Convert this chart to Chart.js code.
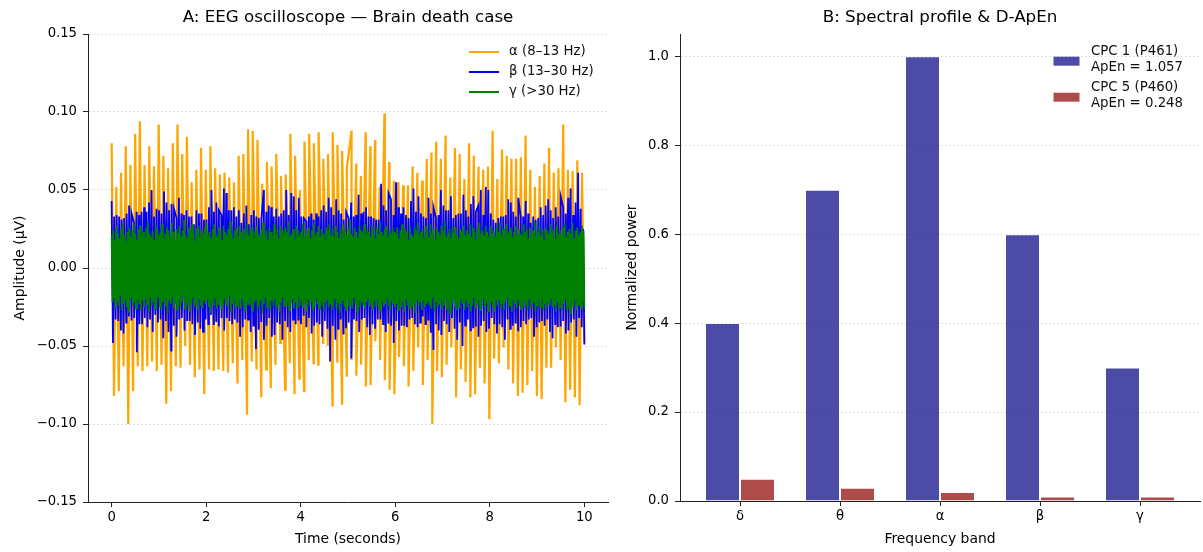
<!DOCTYPE html>
<html>
<head>
<meta charset="utf-8">
<script src="https://cdn.jsdelivr.net/npm/chart.js@4.4.0/dist/chart.umd.min.js"></script>
<style>
  html, body { margin: 0; padding: 0; background: #fff; }
  body { width: 1203px; height: 552px; position: relative; overflow: hidden; }
  #eegWrap { position: absolute; left: 0; top: 0; width: 615px; height: 552px; }
  #bandWrap { position: absolute; left: 600px; top: 0; width: 603px; height: 552px; }
</style>
</head>
<body>
<div id="eegWrap"><canvas id="eeg"></canvas></div>
<div id="bandWrap"><canvas id="bands"></canvas></div>
<script>
// ---- panel A data (amplitudes in units of 0.001) ----
const T_START = 0, T_END = 10;
const AMP_UNIT = 0.001;
const timeTicks = [0, 2, 4, 6, 8, 10];
const ampTicks = [-0.15, -0.1, -0.05, 0, 0.05, 0.1, 0.15];

const alphaPeaks = [80,52,61,78,66,86,94,66,78,65,92,72,64,80,92,73,84,55,63,77,63,78,64,60,61,
  58,55,72,73,89,88,82,54,68,65,73,59,60,86,72,50,81,86,80,87,70,73,87,79,75,64,
  88,67,59,87,78,82,52,99,68,56,55,53,53,65,61,56,70,74,81,70,85,58,77,73,57,
  80,72,65,63,65,88,57,76,72,70,70,71,85,63,52,59,67,77,61,64,92,63,62,69,61];
const alphaTroughs = [-82,-79,-63,-100,-79,-63,-66,-63,-60,-66,-62,-87,-79,-63,-64,-50,-62,-70,-65,-81,
  -65,-66,-65,-66,-67,-61,-74,-59,-94,-60,-65,-83,-65,-77,-62,-48,-78,-61,-81,-71,
  -79,-59,-61,-62,-48,-50,-88,-60,-87,-69,
  -59,-69,-62,-76,-75,-47,-59,-72,-78,-81,-57,-63,-76,-66,-51,-75,-59,-100,-66,-70,
  -62,-51,-83,-65,-73,-83,-81,-64,-74,-97,-58,-61,-51,-65,-74,-82,-80,-75,-66,-82,
  -84,-64,-64,-51,-59,-86,-78,-83,-88,-48];

const betaPeaks = [43,33,34,33,31,32,35,40,35,29,36,34,36,39,36,42,50,33,38,37,35,49,42,37,41,38,32,45,35,34,
  37,33,33,28,37,35,35,31,31,39,50,36,42,37,34,51,48,37,37,39,33,37,29,35,40,28,34,37,33,32,
  31,50,36,40,39,33,38,33,35,37,50,34,48,46,37,45,33,32,30,33,35,31,35,33,37,40,36,45,39,34,
  44,37,35,31,36,32,42,33,34,47,35,36,39,33,33,32,31,31,54,40,37,48,44,34,55,39,35,39,34,32,
  43,51,36,46,35,33,32,45,35,39,32,34,50,40,37,37,46,32,34,35,35,47,37,33,41,46,36,40,50,34,
  52,50,35,31,29,32,33,33,34,44,42,36,33,45,33,33,43,35,29,33,31,32,39,34,40,44,37,32,39,33,
  46,39,35,45,51,34,42,61,38,25];
const betaTroughs = [-48,-33,-34,-40,-42,-35,-31,-33,-32,-54,-36,-36,-32,-38,-33,-41,-30,-35,-33,-45,-34,-41,-53,-37,-44,-33,-32,-40,-34,-34,
  -36,-43,-35,-39,-41,-33,-36,-30,-36,-34,-37,-32,-40,-32,-34,-36,-33,-35,-44,-38,-33,-33,-41,-37,-52,-39,-34,-46,-37,-32,
  -44,-43,-35,-36,-46,-34,-38,-41,-33,-36,-33,-36,-30,-38,-32,-42,-37,-35,-36,-44,-34,-39,-60,-37,-46,-39,-33,-42,-38,-35,
  -58,-33,-34,-41,-33,-32,-38,-43,-36,-39,-33,-33,-36,-41,-35,-37,-48,-34,-40,-37,-37,-38,-33,-32,-36,-38,-35,-31,-36,-33,
  -41,-52,-36,-40,-43,-34,-36,-41,-32,-39,-46,-35,-50,-37,-33,-40,-38,-37,-44,-37,-34,-41,-39,-32,-36,-42,-36,-38,-46,-33,
  -39,-37,-35,-40,-38,-34,-36,-33,-32,-44,-38,-35,-34,-37,-33,-41,-45,-36,-38,-37,-34,-42,-40,-35,-33,-44,-32,-38,-49];

const gammaPeaks = [20,24,18,27,22,19,25,28,21,17,23,26,20,24,29,22,18,25,27,21,
  23,19,26,30,22,20,24,18,27,25,21,23,28,19,22,26,24,20,29,23,
  18,25,22,27,20,24,31,21,19,26,23,28,22,17,25,27,20,24,22,26,
  29,21,23,19,25,28,22,20,26,24,18,27,23,21,25,30,22,19,24,26,
  20,27,23,18,25,22,28,21,24,26,19,23,27,22,20,25,29,21,24,18,
  26,23,20,28,22,25,19,27,24,21,26,23,30,20,22,25,18,27,24,21,
  23,28,20,25,22,26,19,24,29,21,23,27,20,25,22,18,26,24,28,21,
  25,20,27,23,19,26,22,28,24,21,25,31,22,20,26,23,19,27,24,22,
  28,21,25,23,20,27,24,19,26,22,29,23,21,25,27,20,24,22,26,23,
  22,26,19,24,28,21,25,23,18,27,22,20,26,24,29,21,23,25,19,27,
  24,20,28,22,25,18,26,23,21,27,24,30,20,22,25,19,27,23,26,21,
  19,25,23,27,21,24,22,28,20,26,23,18,25,29,22,24,21,27,23,20,
  27,22,24,20,26,23,29,21,25,19,28,22,24,26,20,23,27,21,25,22,
  21,28,23,25,19,26,22,24,30,20,23,27,21,25,18,26,24,22,28,23,
  25,19,27,22,24,21,26,28,20,23,25,22,29,19,24,26,21,23,27,24];
const gammaTroughs = [-22,-19,-26,-21,-24,-18,-27,-23,-20,-25,-28,-21,-19,-24,-22,-26,-20,-23,-27,-21,
  -25,-20,-23,-28,-19,-24,-22,-26,-21,-18,-25,-27,-22,-20,-24,-29,-21,-23,-19,-26,
  -23,-27,-20,-25,-22,-18,-26,-24,-21,-28,-23,-19,-25,-22,-27,-20,-24,-26,-21,-23,
  -20,-25,-29,-22,-24,-19,-26,-23,-21,-27,-24,-20,-22,-25,-18,-28,-23,-21,-26,-24,
  -22,-26,-20,-24,-27,-21,-23,-19,-25,-28,-22,-20,-26,-24,-21,-29,-23,-19,-25,-22,
  -27,-21,-24,-20,-26,-23,-28,-22,-19,-25,-24,-21,-27,-23,-20,-26,-22,-25,-18,-24,
  -21,-26,-23,-28,-20,-24,-22,-27,-25,-19,-23,-26,-21,-24,-28,-22,-20,-25,-23,-27,
  -24,-20,-26,-22,-29,-23,-21,-25,-27,-20,-24,-22,-26,-19,-23,-28,-21,-25,-22,-24,
  -26,-22,-19,-25,-23,-27,-21,-24,-20,-26,-28,-22,-25,-23,-19,-24,-27,-21,-23,-25,
  -23,-27,-20,-25,-22,-28,-19,-24,-26,-21,-25,-23,-29,-20,-24,-22,-27,-21,-25,-23,
  -21,-24,-26,-19,-28,-22,-25,-23,-20,-27,-24,-21,-26,-22,-29,-23,-20,-25,-27,-22,
  -26,-20,-23,-27,-21,-25,-22,-28,-24,-19,-26,-23,-21,-27,-24,-20,-25,-22,-28,-23,
  -22,-25,-28,-21,-24,-20,-26,-23,-27,-22,-19,-25,-24,-28,-21,-23,-26,-20,-24,-27,
  -25,-21,-24,-27,-20,-26,-23,-22,-28,-24,-21,-25,-19,-27,-23,-26,-22,-24,-20,-25,
  -24,-28,-22,-25,-21,-27,-23,-20,-26,-24,-29,-22,-25,-21,-27,-23,-24,-26,-22,-25];

const waveNames = ['α (8–13 Hz)', 'β (13–30 Hz)', 'γ (>30 Hz)'];

// ---- panel B data ----
const bandNames = ['δ', 'θ', 'α', 'β', 'γ'];
const cpc1Power = [0.4, 0.7, 1.0, 0.6, 0.3];
const cpc5Power = [0.05, 0.03, 0.02, 0.01, 0.01];
const powerTicks = [0, 0.2, 0.4, 0.6, 0.8, 1.0];
const groupNames = ['CPC 1 (P461)', 'CPC 5 (P460)'];
const apenValues = [1.057, 0.248];

const FONT = '"DejaVu Sans", sans-serif';
const AXIS = '#222';
const GRID = 'rgba(0,0,0,0.16)';

// peaks and troughs placed alternately along the time axis
function oscillation(peaks, troughs) {
  const span = T_END - T_START;
  const pts = [];
  peaks.forEach((v, i) => pts.push({ x: T_START + i * span / (peaks.length - 0.5), y: v * AMP_UNIT }));
  troughs.forEach((v, i) => pts.push({ x: T_START + (i + 0.5) * span / (troughs.length - 0.5), y: v * AMP_UNIT }));
  return pts.sort((a, b) => a.x - b.x);
}

const minus = s => s.replace('-', '\u2212');

const panelTitle = {
  id: 'panelTitle',
  afterDraw(chart, args, opts) {
    const { ctx, chartArea } = chart;
    ctx.save();
    ctx.font = `${opts.size}px ${FONT}`;
    ctx.fillStyle = '#000';
    ctx.textAlign = 'center';
    ctx.textBaseline = 'middle';
    ctx.fillText(opts.text, (chartArea.left + chartArea.right) / 2, opts.y);
    ctx.restore();
  }
};

const cornerLegend = {
  id: 'cornerLegend',
  afterDraw(chart, args, opts) {
    const { ctx, chartArea } = chart;
    ctx.save();
    ctx.font = `${opts.size}px ${FONT}`;
    ctx.textAlign = 'left';
    ctx.textBaseline = 'middle';
    chart.data.datasets.forEach((ds, i) => {
      const lines = ds.label.split('\n');
      const rowTop = chartArea.top + opts.y + i * opts.rowGap;
      const hx = chartArea.right + opts.x;
      const hy = rowTop + (lines.length - 1) * opts.lineGap / 2 + opts.handleShift;
      if (opts.mode === 'line') {
        ctx.strokeStyle = ds.borderColor;
        ctx.lineWidth = 2;
        ctx.beginPath();
        ctx.moveTo(hx, hy);
        ctx.lineTo(hx + opts.handleLen, hy);
        ctx.stroke();
      } else {
        ctx.fillStyle = ds.backgroundColor;
        ctx.fillRect(hx, hy - opts.boxH / 2, opts.handleLen, opts.boxH);
      }
      ctx.fillStyle = '#111';
      lines.forEach((t, k) => ctx.fillText(t, hx + opts.handleLen + opts.textGap, rowTop + k * opts.lineGap));
    });
    ctx.restore();
  }
};

const tickFont = { family: FONT, size: 13.2 };
const titleFont = { family: FONT, size: 13.9 };

new Chart(document.getElementById('eeg'), {
  type: 'line',
  data: {
    datasets: [
      { label: waveNames[0], data: oscillation(alphaPeaks, alphaTroughs), borderColor: '#ffa500', borderWidth: 2.2, order: 3 },
      { label: waveNames[1], data: oscillation(betaPeaks, betaTroughs), borderColor: '#0000ff', order: 2 },
      { label: waveNames[2], data: oscillation(gammaPeaks, gammaTroughs), borderColor: '#008000', order: 1 }
    ]
  },
  options: {
    responsive: true,
    maintainAspectRatio: false,
    animation: false,
    elements: { line: { borderWidth: 1.8, tension: 0 }, point: { radius: 0 } },
    layout: { padding: { top: 34, right: 7, left: 0, bottom: 0 } },
    plugins: {
      legend: { display: false },
      tooltip: { enabled: false },
      panelTitle: { text: 'A: EEG oscilloscope — Brain death case', size: 16.7, y: 18 },
      cornerLegend: { mode: 'line', x: -139, handleLen: 30, textGap: 10, y: 18, rowGap: 20, lineGap: 16, handleShift: 0, size: 13.3 }
    },
    scales: {
      x: {
        type: 'linear', min: -0.5, max: 10.5,
        afterBuildTicks: s => { s.ticks = timeTicks.map(v => ({ value: v })); },
        afterFit: s => { s.height = 50; },
        ticks: { font: tickFont, color: '#000', padding: 3, maxRotation: 0, callback: v => String(v) },
        grid: { drawOnChartArea: false, tickLength: 5, tickColor: AXIS, tickWidth: 1 },
        border: { color: AXIS, width: 1 },
        title: { display: true, text: 'Time (seconds)', font: titleFont, color: '#000', padding: { top: 0, bottom: 4 } }
      },
      y: {
        min: -0.15, max: 0.15,
        afterBuildTicks: s => { s.ticks = ampTicks.map(v => ({ value: v })); },
        afterFit: s => { s.width = 88; },
        ticks: { font: tickFont, color: '#000', padding: 6, callback: v => minus(v.toFixed(2)) },
        grid: { color: GRID, lineWidth: 1, tickLength: 5, tickColor: AXIS, tickWidth: 1, tickBorderDash: [] },
        border: { color: AXIS, width: 1, dash: [1.5, 2.5] },
        title: { display: true, text: 'Amplitude (μV)', font: titleFont, color: '#000', padding: { top: 12, bottom: 0 } }
      }
    }
  },
  plugins: [panelTitle, cornerLegend]
});

new Chart(document.getElementById('bands'), {
  type: 'bar',
  data: {
    datasets: [
      {
        label: `${groupNames[0]}\nApEn = ${apenValues[0].toFixed(3)}`,
        data: bandNames.map((b, i) => ({ x: i, y: cpc1Power[i] })),
        backgroundColor: 'rgba(0,0,128,0.7)', borderColor: 'rgba(255,255,255,0.2)', borderWidth: 1
      },
      {
        label: `${groupNames[1]}\nApEn = ${apenValues[1].toFixed(3)}`,
        data: bandNames.map((b, i) => ({ x: i, y: cpc5Power[i] })),
        backgroundColor: 'rgba(139,0,0,0.7)', borderColor: 'rgba(255,255,255,0.2)', borderWidth: 1
      }
    ]
  },
  options: {
    responsive: true,
    maintainAspectRatio: false,
    animation: false,
    datasets: { bar: { categoryPercentage: 0.7, barPercentage: 1.0 } },
    layout: { padding: { top: 34, right: 3, left: 0, bottom: 0 } },
    plugins: {
      legend: { display: false },
      tooltip: { enabled: false },
      panelTitle: { text: 'B: Spectral profile & D-ApEn', size: 16.7, y: 18 },
      cornerLegend: { mode: 'box', x: -146.5, handleLen: 26, boxH: 9, textGap: 11.5, y: 17.7, rowGap: 36, lineGap: 16, handleShift: 1.5, size: 13.3 }
    },
    scales: {
      x: {
        type: 'linear', min: -0.6, max: 4.6, offset: false,
        afterBuildTicks: s => { s.ticks = bandNames.map((b, i) => ({ value: i })); },
        afterFit: s => { s.height = 51; },
        ticks: { font: tickFont, color: '#000', padding: 3, maxRotation: 0, callback: v => bandNames[v] },
        grid: { offset: false, drawOnChartArea: false, tickLength: 5, tickColor: AXIS, tickWidth: 1 },
        border: { color: AXIS, width: 1 },
        title: { display: true, text: 'Frequency band', font: titleFont, color: '#000', padding: { top: 0, bottom: 4 } }
      },
      y: {
        min: 0, max: 1.05,
        afterBuildTicks: s => { s.ticks = powerTicks.map(v => ({ value: v })); },
        afterFit: s => { s.width = 80; },
        ticks: { font: tickFont, color: '#000', padding: 6, callback: v => v.toFixed(1) },
        grid: { color: GRID, lineWidth: 1, tickLength: 5, tickColor: AXIS, tickWidth: 1, tickBorderDash: [] },
        border: { color: AXIS, width: 1, dash: [1.5, 2.5] },
        title: { display: true, text: 'Normalized power', font: titleFont, color: '#000', padding: { top: 24, bottom: 0 } }
      }
    }
  },
  plugins: [panelTitle, cornerLegend]
});
</script>
</body>
</html>
